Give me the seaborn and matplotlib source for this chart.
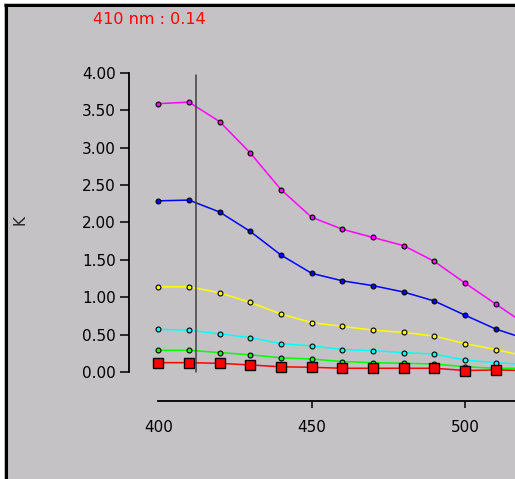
import matplotlib
matplotlib.use("Agg")
import matplotlib.pyplot as plt
import seaborn as sns
from matplotlib.lines import Line2D

# -- data -------------------------------------------------------------
wavelength = [400, 410, 420, 430, 440, 450, 460, 470, 480, 490, 500, 510, 520]

k_magenta = [3.59, 3.61, 3.35, 2.93, 2.44, 2.07, 1.91, 1.80, 1.69, 1.48, 1.19, 0.91, 0.63]
k_blue = [2.29, 2.30, 2.14, 1.88, 1.565, 1.32, 1.22, 1.155, 1.07, 0.95, 0.76, 0.575, 0.44]
k_yellow = [1.14, 1.14, 1.06, 0.93, 0.776, 0.66, 0.61, 0.56, 0.53, 0.48, 0.38, 0.30, 0.21]
k_cyan = [0.57, 0.56, 0.51, 0.46, 0.38, 0.35, 0.30, 0.285, 0.26, 0.24, 0.16, 0.125, 0.10]
k_green = [0.29, 0.29, 0.26, 0.23, 0.19, 0.174, 0.14, 0.125, 0.116, 0.107, 0.07, 0.05, 0.05]
k_red = [0.125, 0.125, 0.116, 0.094, 0.07, 0.063, 0.05, 0.05, 0.05, 0.05, 0.02, 0.027, 0.02]

y_ticks = [0.0, 0.5, 1.0, 1.5, 2.0, 2.5, 3.0, 3.5, 4.0]
x_ticks = [400, 450, 500]

cursor_nm = 412.4
readout = "410 nm : 0.14"

BG = "#C4C2C5"

series = [
    ("magenta", k_magenta, "#FF00FF"),
    ("blue", k_blue, "#0000FF"),
    ("yellow", k_yellow, "#FFFF00"),
    ("cyan", k_cyan, "#00FFFF"),
    ("green", k_green, "#00FF00"),
]

sns.set_style("white")
plt.rcParams["font.family"] = ["DejaVu Sans"]

# fundo cinza; margem branca + moldura preta à esquerda e no topo
fig = plt.figure(figsize=(5.15, 4.79), dpi=100, facecolor=BG)
fig.add_artist(plt.Rectangle((0, 0), 4 / 515, 1, transform=fig.transFigure,
                             facecolor="white", edgecolor="none"))
fig.add_artist(plt.Rectangle((0, 1 - 3 / 479), 1, 3 / 479,
                             transform=fig.transFigure,
                             facecolor="white", edgecolor="none"))
fig.add_artist(Line2D([5.5 / 515, 5.5 / 515], [0, 1 - 4.5 / 479],
                      transform=fig.transFigure, color="black", lw=2.2,
                      solid_capstyle="butt"))
fig.add_artist(Line2D([4.4 / 515, 1], [1 - 4.5 / 479] * 2,
                      transform=fig.transFigure, color="black", lw=2.2,
                      solid_capstyle="butt"))

ax = fig.add_axes([129 / 515, 78 / 479, 386 / 515, 328 / 479])
ax.set_facecolor("none")

for name, vals, col in series:
    sns.lineplot(x=wavelength, y=vals, ax=ax, color=col, lw=1.1,
                 marker="o", markersize=3.5, markeredgecolor="black",
                 markeredgewidth=0.8, markerfacecolor=col)

sns.lineplot(x=wavelength, y=k_red, ax=ax, color="#FF0000", lw=1.1,
             marker="s", markersize=6.5, markeredgecolor="black",
             markeredgewidth=1.0, markerfacecolor="#FF0000")

ax.plot([cursor_nm, cursor_nm], [0, 3.97], color="#404040", lw=1.1)

ax.set_xlim(390.45, 516.3)
ax.set_ylim(-0.388, 4.0)

for s in ["top", "right"]:
    ax.spines[s].set_visible(False)
ax.spines["left"].set_bounds(0, 4)
ax.spines["bottom"].set_bounds(400, 520)
for s in ["left", "bottom"]:
    ax.spines[s].set_color("black")
    ax.spines[s].set_linewidth(1.3)

ax.set_yticks(y_ticks)
ax.set_yticklabels([f"{v:.2f}" for v in y_ticks])
ax.set_xticks(x_ticks)
ax.tick_params(axis="y", direction="out", length=6.5, width=1.1,
               labelsize=11, pad=3, left=True, colors="black")
ax.tick_params(axis="x", direction="out", length=5, width=1.1,
               labelsize=11, pad=9, bottom=True, colors="black")
# sem marca de tick no 400 (início do eixo)
ax.xaxis.get_major_ticks()[0].tick1line.set_visible(False)

fig.text(20 / 515, 1 - 220 / 479, "K", rotation=90, fontsize=11,
         ha="center", va="center")
fig.text(149 / 515, 1 - 20 / 479, readout, color="#FF0000", fontsize=11.5,
         ha="center", va="center")

fig.savefig("out.png", dpi=100, facecolor=BG)
plt.close(fig)
